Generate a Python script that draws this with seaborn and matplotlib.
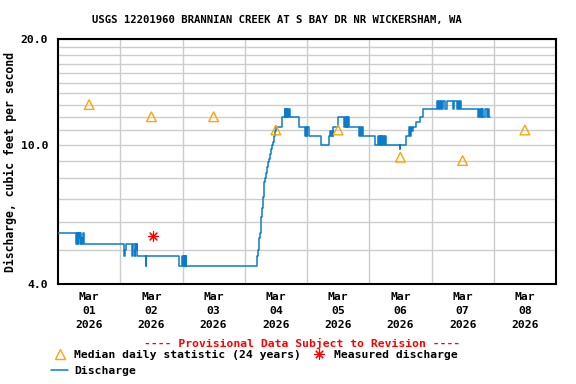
import pandas as pd
import seaborn as sns
import matplotlib.pyplot as plt
from matplotlib.lines import Line2D

# --- data ---
start = pd.Timestamp("2026-03-01")

# step changes of the discharge record: hours after Mar 01 00:00, cfs
step_hours = [
    0, 7.1, 7.3, 7.5, 7.7, 7.9, 8.1, 8.3, 8.5, 8.8, 9.0, 9.2, 9.7, 9.9,
    25.5, 25.7, 26.1, 28.6, 28.8, 29.5, 29.7, 29.9, 30.1, 30.3, 30.5,
    33.8, 34.0, 46.8, 47.9, 48.1, 48.5, 48.7, 48.9, 49.1, 49.3, 49.5,
    76.7, 77.1, 77.5, 77.9, 78.3, 78.7, 79.1, 79.5, 79.8, 80.2, 80.6,
    81.0, 81.4, 81.8, 82.2, 82.5, 82.9, 83.3, 83.7, 84.1,
    86.2, 87.5, 87.7, 87.9, 88.1, 88.3, 88.5, 89.1, 89.6,
    93.0, 95.3, 95.5, 95.9, 96.1, 96.6,
    101.4, 104.6, 105.0, 105.3, 105.6, 105.9, 106.2,
    108.1, 110.4, 110.7, 111.0, 111.3, 111.6, 111.9, 112.3,
    116.0, 116.3, 116.8, 117.1, 117.5,
    122.1, 123.4, 123.6, 124.2, 124.4, 124.7, 125.0, 125.3, 125.5, 126.0, 126.4,
    131.7, 132.0,
    134.3, 135.5, 135.7, 136.0, 136.3, 136.8, 138.2, 139.5, 140.8,
    146.3, 146.6, 146.9, 147.2, 147.5, 147.9, 148.4, 149.2, 149.8, 152.4,
    152.8, 153.7, 154.3, 154.6, 154.9, 155.3,
    162.1, 162.4, 162.7, 163.0, 163.3, 163.6, 164.0, 164.6, 165.3, 165.6,
    166.0, 166.6,
]
step_cfs = [
    5.6, 5.2, 5.6, 5.4, 5.6, 5.2, 5.6, 5.4, 5.6, 5.2, 5.4, 5.2, 5.6, 5.2,
    4.8, 5.0, 5.2, 4.8, 5.2, 4.8, 5.0, 5.2, 5.0, 5.2, 4.8,
    4.5, 4.8, 4.5, 4.8, 4.5, 4.8, 4.5, 4.8, 4.5, 4.8, 4.5,
    4.8, 5.0, 5.4, 5.6, 6.2, 6.6, 7.1, 7.8, 8.0, 8.3, 8.6,
    8.9, 9.1, 9.4, 9.7, 10.0, 10.2, 10.6, 10.9, 11.2,
    12.0, 12.6, 12.0, 12.6, 12.0, 12.6, 12.0, 12.6, 12.0,
    11.2, 10.6, 11.2, 10.6, 11.2, 10.6,
    10.0, 10.6, 10.9, 10.6, 10.9, 10.6, 11.2,
    12.0, 11.2, 12.0, 11.2, 12.0, 11.2, 12.0, 11.2,
    10.6, 11.2, 10.6, 11.2, 10.6,
    10.0, 10.6, 10.0, 10.6, 10.0, 10.6, 10.0, 10.6, 10.0, 10.6, 10.0,
    9.7, 10.0,
    10.6, 11.2, 10.6, 11.2, 10.9, 11.2, 11.6, 12.0, 12.6,
    13.3, 12.6, 13.3, 12.6, 13.3, 12.6, 13.3, 12.6, 13.3, 12.6,
    13.3, 12.6, 13.3, 12.6, 13.3, 12.6,
    12.0, 12.6, 12.0, 12.6, 12.0, 12.6, 12.0, 12.6, 12.0, 12.6,
    12.0, 12.0,
]

# median daily statistic (24 years), one per day at noon
median_days = ["2026-03-01", "2026-03-02", "2026-03-03", "2026-03-04",
               "2026-03-05", "2026-03-06", "2026-03-07", "2026-03-08"]
median_cfs = [13.0, 12.0, 12.0, 11.0, 11.0, 9.2, 9.0, 11.0]

# field measurement
measured_time = ["2026-03-02 12:30"]
measured_cfs = [5.5]

tick_labels = ["Mar\n%02d\n2026" % d for d in range(1, 9)]

TITLE = "USGS 12201960 BRANNIAN CREEK AT S BAY DR NR WICKERSHAM, WA"
BLUE = "#0a7ccc"
ORANGE = "#ffa500"

sns.set_style("white")
plt.rcParams["font.family"] = ["DejaVu Sans Mono"]
plt.rcParams["font.weight"] = "bold"
plt.rcParams["font.size"] = 8.2
plt.rcParams["text.color"] = "black"
plt.rcParams["xtick.color"] = "black"
plt.rcParams["ytick.color"] = "black"
plt.rcParams["axes.labelcolor"] = "black"

flow = pd.DataFrame({
    "time": start + pd.to_timedelta(step_hours, unit="h"),
    "cfs": step_cfs,
})
medians = pd.DataFrame({
    "time": pd.to_datetime(median_days) + pd.Timedelta(hours=12),
    "cfs": median_cfs,
})
measured = pd.DataFrame({"time": pd.to_datetime(measured_time), "cfs": measured_cfs})

fig = plt.figure(figsize=(5.76, 3.84), dpi=100)
ax = fig.add_axes([58 / 576, 1 - 284 / 384, 498 / 576, 245 / 384])

sns.lineplot(data=flow, x="time", y="cfs", ax=ax, color=BLUE, linewidth=1.1,
             drawstyle="steps-post", estimator=None, sort=False, zorder=3)
sns.scatterplot(data=medians, x="time", y="cfs", ax=ax, marker="^", s=48,
                facecolor="none", edgecolor=ORANGE, linewidth=1.0, zorder=4)
sns.scatterplot(data=measured, x="time", y="cfs", ax=ax, marker=(8, 2, 0), s=50,
                color="red", edgecolor="red", linewidth=0.8, zorder=4)

ax.set_yscale("log")
ax.set_ylim(4, 20)
ax.set_yticks([4, 10, 20])
ax.set_yticklabels(["4.0", "10.0", "20.0"], fontweight="bold")
ax.set_yticks([5, 6, 7, 8, 9, 11, 12, 13, 14, 15, 16, 17, 18, 19], minor=True)
ax.yaxis.set_minor_formatter(plt.NullFormatter())

days = pd.date_range("2026-03-01", "2026-03-09", freq="D")
ax.set_xlim(days[0], days[-1])
ax.set_xticks(days[:-1] + pd.Timedelta(hours=12))
ax.set_xticklabels(tick_labels, linespacing=1.45, fontweight="bold")
ax.set_xticks(days[1:-1], minor=True)

ax.grid(False)
ax.grid(True, which="minor", color="#cccccc", linewidth=1.0, zorder=0)
ax.yaxis.grid(True, which="major", color="#cccccc", linewidth=1.0, zorder=0)
ax.tick_params(which="both", length=0)
ax.tick_params(axis="y", pad=7)
ax.tick_params(axis="x", pad=6)
for side in ax.spines.values():
    side.set_color("black")
    side.set_linewidth(1.5)

ax.set_xlabel("")
ax.set_ylabel("Discharge, cubic feet per second", labelpad=3, fontsize=8.3,
              fontweight="bold")
fig.text(277 / 576, 1 - 20 / 384, TITLE, fontsize=7.7, fontweight="bold",
         ha="center", va="center")

fig.text(302 / 576, 1 - 343 / 384, "---- Provisional Data Subject to Revision ----",
         color="red", ha="center", va="center", fontweight="bold")

handles = [
    Line2D([], [], linestyle="none", marker="^", markersize=7,
           markerfacecolor="none", markeredgecolor=ORANGE, markeredgewidth=1.0),
    Line2D([], [], color=BLUE, linewidth=1.1),
    Line2D([], [], linestyle="none", marker=(8, 2, 0), markersize=7.5,
           color="red", markeredgewidth=0.8),
]
labels = ["Median daily statistic (24 years)", "Discharge", "Measured discharge"]
fig.legend(handles, labels, ncol=2, frameon=False, loc="upper left",
           bbox_to_anchor=(51 / 576, 1 - 350 / 384), handlelength=1.5,
           handletextpad=0.5, columnspacing=0.9, labelspacing=0.5,
           borderaxespad=0, borderpad=0)

fig.savefig("out.png", dpi=100)
